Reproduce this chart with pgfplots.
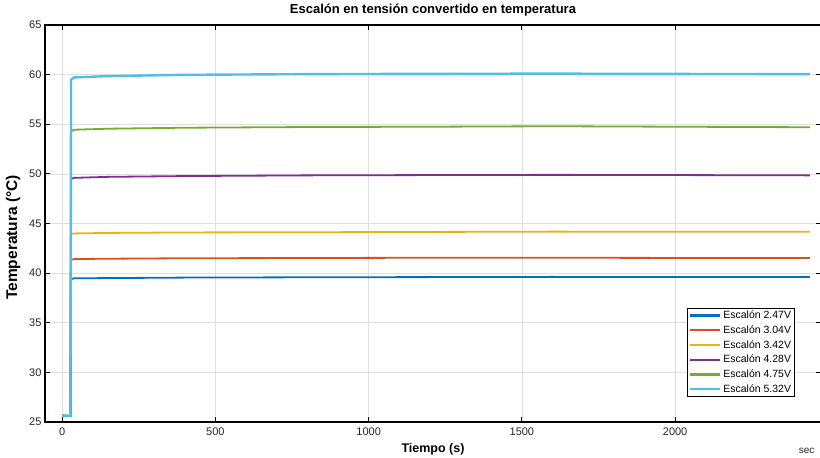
\documentclass[border=0pt]{standalone}
\usepackage{pgfplots}
\pgfplotsset{compat=1.18}
\usepackage{fontspec}
\setmainfont{Liberation Sans}

\definecolor{mblue}{HTML}{0072BD}
\definecolor{mred}{HTML}{D95319}
\definecolor{myellow}{HTML}{EDB120}
\definecolor{mpurple}{HTML}{7E2F8E}
\definecolor{mgreen}{HTML}{77AC30}
\definecolor{mcyan}{HTML}{4DBEEE}

\begin{document}
\begin{tikzpicture}[x=1pt,y=1pt]
\begin{axis}[
    at={(0,0)}, anchor=south west,
    scale only axis,
    width=776pt, height=397pt,
    xmin=-56, xmax=2476,
    ymin=25, ymax=65,
    xtick={0,500,1000,1500,2000},
    ytick={25,30,35,40,45,50,55,60,65},
    scaled x ticks=false,
    /pgf/number format/1000 sep={},
    /pgf/number format/assume math mode=true,
    ticklabel style={font=\fontsize{11}{13}\selectfont, text=black!85},
    x tick label style={yshift=-2pt},
    grid=major,
    major grid style={gray!25, line width=0.6pt},
    tick align=inside,
    major tick length=5pt,
    tick style={black, line width=1pt},
    axis line style={black, line width=1.3pt},
    title={\bfseries Escalón en tensión convertido en temperatura},
    title style={at={(axis description cs:0.5,1.0144)}, anchor=base,
        font=\fontsize{13}{15}\selectfont},
    xlabel={\bfseries Tiempo (s)},
    xlabel style={at={(axis description cs:0.5,-0.0763)}, anchor=base,
        font=\fontsize{12.5}{14}\selectfont},
    ylabel={\bfseries Temperatura (°C)},
    every axis y label/.style={at={(axis description cs:-0.036,0.465)},
        rotate=90, anchor=base, font=\fontsize{15.5}{17}\selectfont},
    legend cell align=left,
    legend style={at={(axis description cs:0.9665,0.0622)}, anchor=south east,
        draw=black, line width=0.9pt, fill=white,
        font=\fontsize{10.5}{12}\selectfont,
        inner xsep=1.5pt, inner ysep=1pt,
        nodes={inner ysep=1pt, text height=8pt, text depth=2.5pt},
        row sep=2.2pt},
    legend image code/.code={\draw[#1] (0pt,0.5pt) -- (30pt,0.5pt);},
    legend image post style={line width=2.3pt},
]
\addplot[color=mblue, line width=1.8pt] coordinates {
    (0,25.65) (27,25.6) (29,39.4) (40,39.48) (150,39.5) (400,39.55) (800,39.58)
    (1200,39.6) (1600,39.62) (2000,39.6) (2440,39.6)
};
\addlegendentry{Escalón 2.47V}
\addplot[color=mred, line width=1.8pt] coordinates {
    (0,25.65) (27,25.6) (29,41.35) (40,41.42) (150,41.45) (400,41.5) (800,41.52)
    (1200,41.55) (1600,41.55) (2000,41.53) (2440,41.52)
};
\addlegendentry{Escalón 3.04V}
\addplot[color=myellow, line width=1.8pt] coordinates {
    (0,25.65) (27,25.6) (29,43.95) (40,44.0) (150,44.05) (400,44.1) (800,44.12)
    (1200,44.15) (1600,44.18) (2000,44.17) (2440,44.16)
};
\addlegendentry{Escalón 3.42V}
\addplot[color=mpurple, line width=1.8pt] coordinates {
    (0,25.65) (27,25.6) (29,49.5) (40,49.6) (150,49.7) (400,49.78) (800,49.85)
    (1200,49.88) (1600,49.9) (2000,49.88) (2440,49.85)
};
\addlegendentry{Escalón 4.28V}
\addplot[color=mgreen, line width=1.8pt] coordinates {
    (0,25.65) (27,25.6) (29,54.3) (40,54.45) (150,54.55) (400,54.65) (800,54.72)
    (1200,54.75) (1600,54.8) (2000,54.75) (2440,54.7)
};
\addlegendentry{Escalón 4.75V}
\addplot[color=mcyan, line width=2.4pt] coordinates {
    (0,25.65) (27,25.6) (29,59.5) (40,59.72) (150,59.85) (400,59.98) (800,60.05)
    (1200,60.08) (1600,60.1) (2000,60.07) (2440,60.05)
};
\addlegendentry{Escalón 5.32V}
\end{axis}
\node[anchor=base east, font=\fontsize{10}{12}\selectfont, text=black!85] at (773,-32) {sec};
\pgfresetboundingbox
\path[use as bounding box] (-45,-36) rectangle (775,422);
\end{tikzpicture}
\end{document}
